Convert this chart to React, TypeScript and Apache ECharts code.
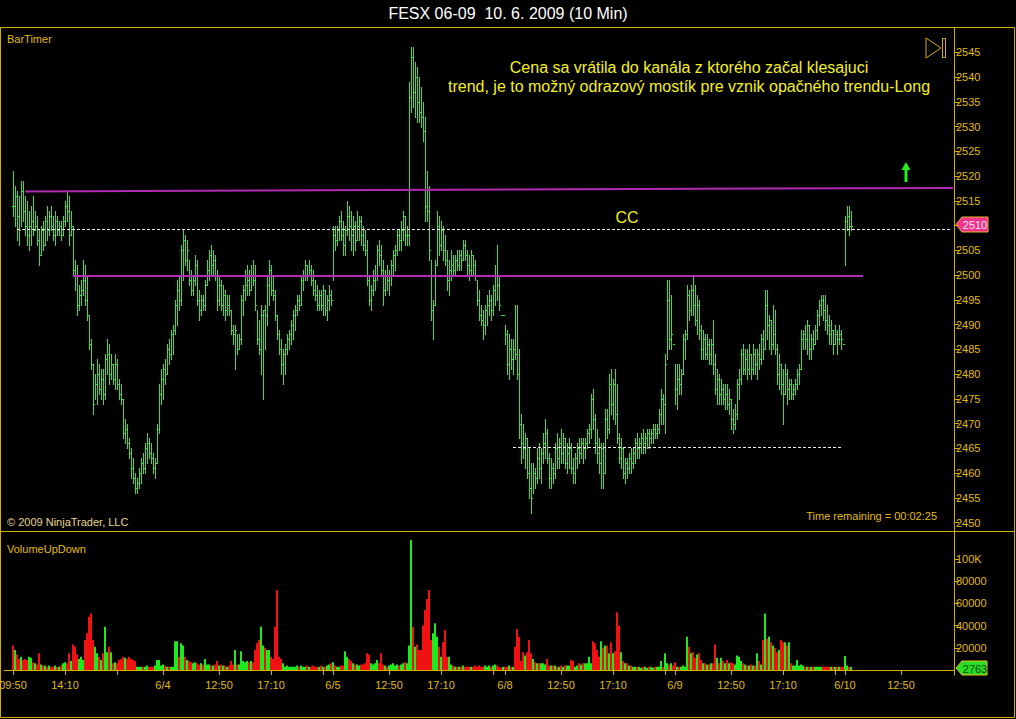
import React, { useEffect, useRef } from 'react';
import * as echarts from 'echarts';

// ---------- DATA (10-min bars, FESX 06-09) ----------
// Day 6/3 (from 09:50)
const high1 = [2521,2518,2517,2516,2519,2519,2516,2515,2513,2514, 2516,2513,2512,2509,2510,2511,2512,2514,2513,2514, 2512,2513,2512,2511,2511,2512,2515,2517,2516,2513, 2510,2503,2502,2498,2499,2503,2502,2500,2492,2487, 2482,2480,2483,2482,2481,2481,2484,2487,2486,2484, 2482,2484,2483,2479,2478,2475,2471,2470,2467,2465, 2463,2460,2459,2461,2463,2464,2466,2468,2467,2466, 2464,2463,2470,2478,2481];
const low1 = [2512,2510,2507,2506,2510,2511,2508,2506,2505,2506, 2508,2509,2506,2502,2504,2505,2506,2507,2508,2509, 2507,2506,2508,2508,2507,2508,2510,2511,2506,2508, 2500,2497,2492,2493,2494,2496,2494,2491,2485,2481, 2472,2475,2474,2476,2475,2474,2475,2480,2478,2479, 2478,2477,2477,2475,2474,2467,2466,2465,2463,2459, 2458,2456,2456,2457,2458,2460,2460,2462,2463,2462, 2460,2459,2462,2468,2474];
const close1 = [2514,2516,2512,2509,2517,2513,2510,2508,2510,2511, 2509,2510,2507,2504,2509,2506,2511,2509,2512,2510, 2508,2511,2509,2510,2508,2511,2514,2513,2508,2510, 2501,2500,2494,2496,2497,2499,2495,2492,2486,2482, 2474,2478,2480,2477,2479,2476,2483,2484,2480,2482, 2479,2482,2478,2476,2475,2468,2469,2466,2464,2461, 2459,2457,2458,2460,2462,2461,2465,2466,2464,2463, 2461,2462,2469,2476,2479];
const vol1K = [22,18,14,10,12,9,10,9,12,11, 7,6,5,15,5,4,4,3,4,3, 3,4,3,3,4,6,7,6,15,8, 23,21,14,10,12,9,27,33,48,51, 27,21,15,12,9,15,39,16,21,16, 6,7,6,9,10,12,11,10,12,10, 9,8,3,3,3,3,3,4,3,3, 3,4,9,9,4];

// Day 6/4
const high2 = [2482,2483,2486,2487,2489,2490,2495,2499,2500,2506, 2509,2508,2507,2503,2501,2500,2504,2503,2497,2496, 2496,2499,2503,2505,2506,2505,2504,2501,2500,2499, 2498,2497,2496,2496,2493,2490,2490,2488,2488,2496, 2498,2501,2502,2501,2502,2503,2502,2493,2491,2494, 2493,2494,2500,2503,2502,2500,2497,2492,2489,2487, 2485,2486,2488,2489,2491,2493,2494,2496,2496,2500, 2501,2503,2502,2503,2502,2501,2499,2498,2497,2497, 2498,2497,2496,2498,2497];
const low2 = [2475,2478,2480,2482,2483,2484,2488,2490,2493,2494, 2499,2502,2501,2498,2496,2496,2498,2494,2491,2492, 2493,2493,2498,2499,2500,2500,2499,2493,2494,2493, 2492,2491,2492,2492,2488,2486,2481,2484,2485,2486, 2492,2495,2496,2496,2497,2498,2493,2486,2484,2480, 2475,2485,2490,2494,2496,2495,2491,2487,2484,2480, 2478,2480,2484,2485,2486,2487,2489,2492,2493,2494, 2497,2499,2499,2500,2498,2496,2495,2493,2493,2493, 2492,2492,2491,2493,2494];
const close2 = [2481,2480,2485,2484,2488,2489,2494,2497,2495,2505, 2507,2503,2505,2499,2497,2499,2502,2495,2493,2495, 2494,2498,2501,2504,2502,2503,2500,2495,2498,2494, 2496,2493,2494,2493,2489,2488,2489,2485,2487,2495, 2497,2498,2499,2497,2500,2499,2494,2487,2485,2492, 2493,2492,2498,2501,2497,2496,2492,2488,2485,2482, 2484,2485,2487,2488,2490,2492,2493,2495,2494,2499, 2500,2502,2500,2501,2499,2497,2496,2494,2496,2494, 2497,2493,2495,2496,2495];
const vol2K = [5,4,3,3,3,3,26,26,12,24, 22,12,9,8,7,6,7,6,5,6, 5,10,5,5,4,4,5,8,4,5, 4,4,3,4,8,5,18,5,5,17, 8,7,8,7,8,7,18,24,27,39, 22,20,18,18,12,10,39,72,12,10, 6,3,4,3,3,3,3,4,3,4, 3,3,4,3,3,4,3,3,3,4, 3,3,4,5,6];

// Day 6/5
const high3 = [2510,2510,2510,2512,2513,2511,2510,2515,2514,2513, 2512,2511,2513,2512,2512,2510,2509,2507,2500,2498, 2501,2502,2506,2507,2506,2503,2501,2502,2501,2503, 2505,2506,2509,2509,2511,2513,2512,2510,2539,2546, 2546,2543,2542,2540,2538,2535,2532,2521,2518,2503, 2495,2503,2513,2512,2511,2510,2508,2505,2503,2505, 2504,2504,2505,2505,2505,2507,2507,2505,2504,2505, 2504,2503,2499,2497,2494,2493,2494,2496,2497,2496, 2498,2502,2506,2500,2492];
const low3 = [2499,2505,2506,2507,2507,2504,2504,2508,2507,2505, 2504,2505,2507,2507,2506,2505,2504,2498,2494,2493, 2496,2497,2499,2502,2500,2494,2496,2497,2496,2498, 2500,2501,2504,2505,2505,2507,2506,2506,2506,2533, 2534,2532,2531,2531,2530,2527,2511,2511,2503,2491, 2487,2494,2502,2504,2505,2503,2502,2497,2496,2499, 2500,2500,2501,2501,2501,2503,2503,2500,2499,2500, 2500,2499,2494,2491,2490,2487,2488,2490,2492,2491, 2492,2494,2495,2493,2492];
const close3 = [2508,2507,2509,2511,2508,2506,2509,2512,2510,2508, 2510,2507,2510,2511,2508,2506,2505,2499,2495,2497, 2499,2500,2505,2504,2501,2497,2500,2499,2500,2502, 2504,2505,2508,2507,2509,2512,2508,2508,2536,2544, 2537,2540,2535,2533,2532,2529,2514,2513,2505,2493, 2494,2502,2510,2506,2509,2505,2503,2499,2501,2502, 2501,2503,2502,2504,2503,2506,2504,2502,2501,2504, 2502,2500,2495,2492,2491,2490,2493,2494,2495,2493, 2497,2500,2498,2494,2492];
const vol3K = [7,4,3,3,4,4,17,12,10,8, 6,5,5,4,5,5,6,15,14,6, 5,6,9,6,15,5,4,3,4,5, 6,4,5,4,5,6,7,6,22,117, 39,21,23,18,18,40,54,64,72,27, 33,42,30,21,12,25,36,12,12,5, 4,3,3,3,3,4,3,3,3,3, 3,4,3,4,3,3,4,3,4,3, 4,5,4,3,2];

// Day 6/8
const high4 = [2492,2490,2489,2488,2487,2487,2494,2494,2485,2472, 2470,2468,2467,2465,2462,2462,2461,2465,2466,2465, 2468,2471,2469,2464,2463,2462,2466,2468,2467,2469, 2468,2467,2466,2467,2466,2463,2464,2466,2467,2467, 2467,2467,2469,2470,2476,2477,2472,2469,2467,2466, 2466,2473,2473,2480,2481,2479,2481,2478,2468,2467, 2465,2463,2463,2464,2465,2465,2467,2468,2467,2468, 2469,2468,2469,2469,2469,2470,2470,2470,2473,2477, 2476,2484,2499,2499,2496,2486];
const low4 = [2492,2486,2480,2479,2481,2480,2483,2479,2467,2462, 2463,2461,2459,2455,2452,2456,2457,2458,2459,2458, 2462,2463,2462,2457,2457,2458,2459,2461,2461,2462, 2462,2461,2460,2461,2460,2458,2458,2461,2462,2463, 2462,2463,2465,2466,2467,2469,2464,2462,2460,2457, 2457,2460,2467,2468,2472,2471,2470,2466,2462,2461, 2459,2458,2459,2460,2460,2461,2462,2463,2463,2464, 2464,2464,2465,2465,2466,2466,2467,2467,2468,2470, 2470,2468,2483,2485,2485,2486];
const close4 = [2492,2488,2482,2485,2483,2485,2484,2480,2470,2466, 2465,2467,2460,2457,2455,2460,2459,2463,2461,2464, 2466,2468,2463,2459,2461,2460,2465,2463,2466,2464, 2467,2462,2464,2465,2461,2460,2463,2465,2464,2466, 2465,2466,2468,2469,2475,2471,2466,2464,2462,2465, 2460,2471,2469,2478,2474,2478,2472,2467,2463,2465, 2460,2462,2461,2463,2462,2464,2466,2465,2466,2467, 2466,2467,2468,2467,2468,2469,2468,2469,2472,2475, 2474,2482,2495,2487,2488,2486];
const vol4K = [3,3,3,4,3,3,21,37,30,8, 16,13,16,27,15,10,7,6,6,6, 6,5,10,4,4,4,4,3,3,4, 3,4,4,4,9,8,3,4,6,5, 6,6,6,12,6,26,24,18,12,26, 20,22,22,15,25,15,17,52,40,16, 8,6,6,4,4,3,3,3,3,2, 3,3,2,3,3,2,3,3,3,8, 3,15,6,5,6,4];

// Day 6/9
const high5 = [2482,2482,2482,2481,2488,2489,2498,2497,2498,2500, 2498,2496,2495,2490,2489,2488,2488,2487,2487,2491, 2484,2481,2480,2479,2478,2478,2478,2477,2475,2473, 2474,2479,2481,2485,2486,2485,2485,2486,2484,2486, 2485,2485,2486,2488,2489,2497,2497,2492,2491,2494, 2493,2486,2484,2482,2481,2482,2481,2479,2479,2478, 2479,2481,2482,2489,2489,2490,2491,2490,2488,2489, 2490,2493,2495,2496,2496,2496,2494,2492,2491,2489, 2490,2489,2490,2489,2486];
const low5 = [2474,2473,2476,2476,2480,2483,2487,2491,2492,2492, 2490,2488,2487,2483,2483,2483,2483,2482,2482,2480, 2476,2474,2474,2474,2474,2473,2473,2472,2469,2468, 2469,2471,2475,2478,2480,2480,2479,2480,2479,2480, 2480,2479,2481,2482,2483,2485,2487,2485,2484,2485, 2484,2478,2477,2476,2470,2476,2474,2475,2475,2475, 2476,2477,2478,2481,2485,2485,2484,2483,2483,2485, 2486,2487,2490,2492,2491,2489,2488,2486,2486,2484, 2486,2484,2486,2485,2486];
const close5 = [2477,2479,2478,2480,2487,2488,2496,2493,2497,2494, 2491,2494,2489,2485,2487,2484,2486,2484,2486,2482, 2477,2479,2476,2477,2475,2476,2474,2475,2471,2470, 2472,2478,2479,2484,2481,2483,2481,2484,2481,2484, 2482,2484,2483,2487,2485,2494,2490,2491,2486,2488, 2485,2480,2482,2478,2476,2480,2477,2478,2476,2477, 2478,2480,2481,2487,2488,2487,2490,2485,2487,2486, 2489,2492,2494,2495,2493,2491,2490,2488,2489,2486, 2488,2487,2488,2487,2486];
const vol5K = [7,3,3,3,4,3,30,21,15,16, 11,14,15,9,6,6,5,5,6,6, 23,11,6,11,8,6,9,6,7,6, 5,13,12,8,6,5,4,4,5,4, 4,15,8,5,27,51,28,30,25,22, 20,16,18,27,25,25,22,25,6,4, 4,9,4,5,4,3,3,3,3,3, 3,3,3,3,3,3,3,3,3,3, 3,3,3,3,3];

// Day 6/10
const high6 = [2512,2514,2514,2513];
const low6 = [2502,2509,2508,2509];
const close6 = [2511,2512,2510,2510];
const vol6K = [12.6,4,3,2.763];

// Time axis (10-min slots), ticks and labels
const SLOT_COUNT = 475;
const FIRST_BAR_SLOT = 4;
const tickSlots = [4,30,56,79,107,133,159,164,192,218,244,250,278,304,330,335,363,389,415,420,448];
const tickLabels = ['09:50','14:10','','6/4','12:50','17:10','','6/5','12:50','17:10','','6/8','12:50','17:10','','6/9','12:50','17:10','','6/10','12:50'];
const priceTicks = [2450,2455,2460,2465,2470,2475,2480,2485,2490,2495,2500,2505,2510,2515,2520,2525,2530,2535,2540,2545];
const volumeTicks = [20000,40000,60000,80000,100000];

// Drawn levels (slot index, price)
const trendLines = [
  { from: [10, 2516.9], to: [474, 2517.6] },
  { from: [34, 2499.8], to: [429, 2499.8] },
];
const dashedLevels = [
  { from: [6, 2509.3], to: [473, 2509.3] },
  { from: [254, 2465.2], to: [419, 2465.2] },
];

const TITLE = 'FESX 06-09  10. 6. 2009 (10 Min)';
const NOTE1 = 'Cena sa vrátila do kanála z ktorého začal klesajuci';
const NOTE2 = 'trend, je to možný odrazový mostík pre vznik opačného trendu-Long';
const LAST_PRICE = 2510;
const LAST_VOLUME = '2763';

// ---------- STYLE ----------
const GOLD = '#d4ae00';
const GOLD_TEXT = '#e0bc0c';
const BAR_GREEN = '#2ee82e';
const VOL_GREEN = '#1ee81e';
const VOL_RED = '#f01212';
const MAGENTA = '#b02cb0';
const FONT = '"Liberation Sans", Arial, Helvetica, sans-serif';

export default function App() {
  const ref = useRef<HTMLDivElement>(null);

  useEffect(() => {
    document.body.style.margin = '0';
    document.body.style.background = '#000';
    const chart = echarts.init(ref.current!, undefined, { renderer: 'svg' });

    const highs = [...high1, ...high2, ...high3, ...high4, ...high5, ...high6];
    const lows = [...low1, ...low2, ...low3, ...low4, ...low5, ...low6];
    const closes = [...close1, ...close2, ...close3, ...close4, ...close5, ...close6];
    const volsK = [...vol1K, ...vol2K, ...vol3K, ...vol4K, ...vol5K, ...vol6K];

    const tickSet = new Set(tickSlots);
    const labelSet = new Set(tickSlots.filter((_, k) => tickLabels[k] !== ''));
    const categories: string[] = [];
    for (let i = 0; i < SLOT_COUNT; i++) {
      const k = tickSlots.indexOf(i);
      categories.push(k >= 0 ? tickLabels[k] : ' ' + i);
    }

    const priceData = highs.map((h, k) => [
      FIRST_BAR_SLOT + k, h, lows[k], closes[k], k > 0 ? closes[k - 1] : closes[k],
    ]);
    const volData: any[] = new Array(SLOT_COUNT).fill('-');
    volsK.forEach((v, k) => {
      const up = k > 0 ? closes[k] >= closes[k - 1] : false;
      volData[FIRST_BAR_SLOT + k] = {
        value: Math.round(v * 1000),
        itemStyle: { color: up ? VOL_GREEN : VOL_RED },
      };
    });

    const markData: any[] = [];
    trendLines.forEach((l) => {
      markData.push([
        { coord: l.from, lineStyle: { color: MAGENTA, width: 2, type: 'solid' } },
        { coord: l.to },
      ]);
    });
    dashedLevels.forEach((l) => {
      markData.push([
        { coord: l.from, lineStyle: { color: '#f0f0f0', width: 1, type: [3, 2] } },
        { coord: l.to },
      ]);
    });

    // the last-price marker covers the axis label at that level
    const priceLabelValues = priceTicks.filter((v) => v !== LAST_PRICE);

    const txt = (text: string, x: number, y: number, size: number, fill: string, align = 'left') => ({
      type: 'text', x, y, silent: true,
      style: {
        text, fill, font: `${size}px ${FONT}`,
        textAlign: align, textVerticalAlign: 'middle', align, verticalAlign: 'middle',
      },
    });

    const option: any = {
      animation: false,
      backgroundColor: '#000000',
      grid: [
        { left: 4, right: 62, top: 28, height: 503, containLabel: false, outerBoundsMode: 'none' },
        { left: 4, right: 62, top: 532, height: 138, containLabel: false, outerBoundsMode: 'none' },
      ],
      xAxis: [
        { type: 'category', gridIndex: 0, data: categories, boundaryGap: true, show: false },
        {
          type: 'category', gridIndex: 1, data: categories, boundaryGap: true, offset: 5,
          axisLine: { show: true, lineStyle: { color: GOLD, width: 1 } },
          axisTick: {
            show: true, alignWithLabel: true, length: 5,
            interval: (i: number) => tickSet.has(i),
            lineStyle: { color: GOLD },
          },
          axisLabel: {
            show: true, interval: (i: number) => labelSet.has(i),
            color: GOLD_TEXT, fontSize: 11, fontFamily: FONT, margin: 4,
          },
          splitLine: { show: false },
        },
      ],
      yAxis: [
        {
          type: 'value', gridIndex: 0, position: 'right', min: 2448.3, max: 2549.9, scale: true,
          axisLine: { show: false },
          axisTick: { show: true, length: 5, customValues: priceTicks, lineStyle: { color: GOLD } },
          axisLabel: {
            show: true, customValues: priceLabelValues, color: GOLD_TEXT, fontSize: 11, fontFamily: FONT, margin: 2,
            formatter: (v: number) => String(v),
          },
          splitLine: { show: false },
        },
        {
          type: 'value', gridIndex: 1, position: 'right', min: 0, max: 124300,
          axisLine: { show: false },
          axisTick: { show: true, length: 5, customValues: volumeTicks, lineStyle: { color: GOLD } },
          axisLabel: {
            show: true, customValues: volumeTicks, color: GOLD_TEXT, fontSize: 11, fontFamily: FONT, margin: 2,
            formatter: (v: number) => (v >= 100000 ? `${v / 1000}K` : String(v)),
          },
          splitLine: { show: false },
        },
      ],
      series: [
        {
          type: 'custom', xAxisIndex: 0, yAxisIndex: 0, data: priceData,
          encode: { x: 0, y: [1, 2] }, silent: true,
          itemStyle: { color: BAR_GREEN, borderWidth: 0 },
          renderItem: (_params: any, api: any) => {
            const slot = api.value(0);
            const top = api.coord([slot, api.value(1)]);
            const bot = api.coord([slot, api.value(2)]);
            const cl = api.coord([slot, api.value(3)]);
            const op = api.coord([slot, api.value(4)]);
            const px = Math.round(top[0]);
            const y1 = Math.round(top[1]);
            const y2 = Math.round(bot[1]);
            const style = { fill: BAR_GREEN, stroke: null, lineWidth: 0, opacity: 1 };
            return {
              type: 'group',
              children: [
                { type: 'rect', shape: { x: px, y: y1, width: 1, height: Math.max(1, y2 - y1 + 1) }, style },
                { type: 'rect', shape: { x: px + 1, y: Math.round(cl[1]), width: 1, height: 1 }, style },
                { type: 'rect', shape: { x: px - 1, y: Math.round(op[1]), width: 1, height: 1 }, style },
              ],
            };
          },
          markLine: { silent: true, symbol: 'none', label: { show: false }, animation: false, data: markData },
        },
        {
          type: 'bar', xAxisIndex: 1, yAxisIndex: 1, data: volData, barWidth: 2, silent: true,
        },
      ],
      graphic: {
        elements: [
          { type: 'rect', silent: true, shape: { x: 0.5, y: 27.5, width: 1014, height: 690 }, style: { fill: 'none', stroke: GOLD, lineWidth: 1 } },
          { type: 'line', silent: true, shape: { x1: 0, y1: 531.5, x2: 1015, y2: 531.5 }, style: { stroke: GOLD, lineWidth: 1 } },
          { type: 'line', silent: true, shape: { x1: 954.5, y1: 27.5, x2: 954.5, y2: 675.5 }, style: { stroke: GOLD, lineWidth: 1 } },
          { type: 'line', silent: true, shape: { x1: 4, y1: 670.5, x2: 954, y2: 670.5 }, style: { stroke: '#d8d8d8', lineWidth: 1 } },
          txt(TITLE, 508, 13, 16, '#ffffff', 'center'),
          txt('BarTimer', 7, 39, 11, GOLD_TEXT),
          txt('© 2009 NinjaTrader, LLC', 7, 522, 11, '#e6d890'),
          txt('Time remaining = 00:02:25', 937, 516, 11, GOLD_TEXT, 'right'),
          txt('VolumeUpDown', 7, 549, 11, GOLD_TEXT),
          txt(NOTE1, 689, 67, 16, '#f4f020', 'center'),
          txt(NOTE2, 689, 86, 16, '#f4f020', 'center'),
          txt('CC', 627, 217, 16, '#f4f020', 'center'),
          { type: 'polygon', silent: true, shape: { points: [[926, 38], [941, 48], [926, 58]] }, style: { fill: 'none', stroke: GOLD, lineWidth: 1 } },
          { type: 'rect', silent: true, shape: { x: 942.5, y: 38.5, width: 3, height: 19 }, style: { fill: 'none', stroke: GOLD, lineWidth: 1 } },
          { type: 'polygon', silent: true, shape: { points: [[906, 162], [901.5, 170], [904.5, 170], [904.5, 182], [907.5, 182], [907.5, 170], [910.5, 170]] }, style: { fill: '#22ee22' } },
          { type: 'polygon', silent: true, shape: { points: [[956, 224.5], [962, 217], [988, 217], [988, 232], [962, 232]] }, style: { fill: '#f2328c', stroke: '#e8b020', lineWidth: 1 } },
          txt(String(LAST_PRICE), 975, 225, 11, '#ffe4f0', 'center'),
          { type: 'polygon', silent: true, shape: { points: [[956, 668], [962, 661], [987, 661], [987, 675], [962, 675]] }, style: { fill: '#28dc28', stroke: '#e8c020', lineWidth: 1 } },
          txt(LAST_VOLUME, 975, 668.5, 11, '#0b4d0b', 'center'),
        ],
      },
    };

    chart.setOption(option);
    return () => chart.dispose();
  }, []);

  return (
    <div
      ref={ref}
      style={{ position: 'fixed', left: 0, top: 0, width: 1016, height: 719, background: '#000' }}
    />
  );
}
